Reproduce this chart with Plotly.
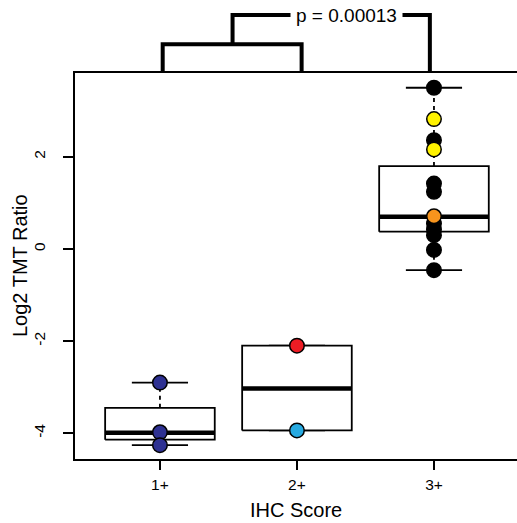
import plotly.graph_objects as go

# ---- data ----
groups = ["1+", "2+", "3+"]
group_pos = [1, 2, 3]

pts_1 = [-2.90, -3.98, -4.26]
col_1 = ["#2e3192", "#2e3192", "#2e3192"]
pts_2 = [-2.10, -3.94]
col_2 = ["#ed1c24", "#27aae1"]
pts_3 = [3.50, 2.36, 2.82, 2.16, 1.42, 1.24, 0.55, 0.42, 0.30, -0.02, -0.46, 0.71]
col_3 = ["#000000", "#000000", "#fff200", "#fff200", "#000000", "#000000",
         "#000000", "#000000", "#000000", "#000000", "#000000", "#f7941d"]

box_q1 = [-4.14, -3.94, 0.375]
box_med = [-3.99, -3.03, 0.70]
box_q3 = [-3.45, -2.10, 1.80]
box_wlo = [-4.26, -3.94, -0.46]
box_whi = [-2.90, -2.10, 3.50]

ytick_vals = [-4, -2, 0, 2]
ytick_text = ["-4", "-2", "0", "2"]

bracket_x = [1.02, 2.034, 1.53, 2.97]   # left/right of low bracket, mid and right of top bracket
p_label = "p = 0.00013"
p_label_x = 2.365

BOX_HALF = 0.40
CAP_HALF = 0.205
FONT = "Liberation Sans, Arial, sans-serif"

fig = go.Figure()

points = [pts_1, pts_2, pts_3]
cols = [col_1, col_2, col_3]

for i, x in enumerate(group_pos):
    q1, med, q3 = box_q1[i], box_med[i], box_q3[i]
    lo, hi = box_wlo[i], box_whi[i]
    # whiskers (dashed)
    fig.add_trace(go.Scatter(x=[x, x, None, x, x], y=[q3, hi, None, q1, lo], mode="lines",
                             line=dict(color="black", width=1.8, dash="4px,4px"),
                             hoverinfo="skip", showlegend=False))
    # caps
    fig.add_trace(go.Scatter(x=[x - CAP_HALF, x + CAP_HALF, None, x - CAP_HALF, x + CAP_HALF],
                             y=[hi, hi, None, lo, lo], mode="lines",
                             line=dict(color="black", width=1.8),
                             hoverinfo="skip", showlegend=False))
    # box
    fig.add_trace(go.Scatter(x=[x - BOX_HALF, x + BOX_HALF, x + BOX_HALF, x - BOX_HALF, x - BOX_HALF],
                             y=[q1, q1, q3, q3, q1], mode="lines", fill="toself",
                             fillcolor="white",
                             line=dict(color="black", width=1.8),
                             hoverinfo="skip", showlegend=False))
    # median
    fig.add_trace(go.Scatter(x=[x - BOX_HALF, x + BOX_HALF], y=[med, med], mode="lines",
                             line=dict(color="black", width=4.5),
                             hoverinfo="skip", showlegend=False))

for i, x in enumerate(group_pos):
    fig.add_trace(go.Scatter(x=[x] * len(points[i]), y=points[i], mode="markers",
                             marker=dict(size=14.5, color=cols[i],
                                         line=dict(color="black", width=1.5)),
                             showlegend=False))

# significance brackets (above the plot area)
Y_LOW = 1.0744
Y_HIGH = 1.150
bl, br, bm, bt = bracket_x
fig.add_shape(type="path", xref="x", yref="paper",
              path=f"M{bl},1 L{bl},{Y_LOW} L{br},{Y_LOW} L{br},1",
              line=dict(color="black", width=4))
fig.add_shape(type="path", xref="x", yref="paper",
              path=f"M{bm},{Y_LOW} L{bm},{Y_HIGH} L{bt},{Y_HIGH} L{bt},1",
              line=dict(color="black", width=4))
fig.add_annotation(x=p_label_x, y=Y_HIGH, xref="x", yref="paper", text=p_label,
                   showarrow=False, bgcolor="white", borderpad=5,
                   xanchor="center", yanchor="middle",
                   font=dict(family=FONT, size=19, color="black"))

# axis titles
fig.add_annotation(x=0.5, y=0, xref="paper", yref="paper", text="IHC Score",
                   showarrow=False, yanchor="middle", yshift=-51,
                   font=dict(family=FONT, size=20, color="black"))
fig.add_annotation(x=0, y=0.5, xref="paper", yref="paper", text="Log2 TMT Ratio",
                   showarrow=False, textangle=-90, xanchor="center", xshift=-55,
                   font=dict(family=FONT, size=20, color="black"))

fig.update_layout(
    width=517, height=523,
    margin=dict(l=75, r=0, t=73, b=64),
    paper_bgcolor="white", plot_bgcolor="white",
    font=dict(family=FONT, color="black"),
    xaxis=dict(range=[0.38, 3.606], tickvals=group_pos, ticktext=groups,
               showline=True, linecolor="black", linewidth=2, mirror=True,
               ticks="outside", ticklen=9, tickwidth=2, tickcolor="black",
               tickfont=dict(size=15.5, family=FONT), showgrid=False, zeroline=False,
               ticklabelstandoff=1),
    yaxis=dict(range=[-4.56, 3.82], tickvals=ytick_vals, ticktext=ytick_text,
               tickangle=-90,
               showline=True, linecolor="black", linewidth=2, mirror=False,
               ticks="outside", ticklen=10, tickwidth=2, tickcolor="black",
               tickfont=dict(size=15.5, family=FONT), showgrid=False, zeroline=False,
               ticklabelstandoff=12),
)

fig.write_html("out.html")
